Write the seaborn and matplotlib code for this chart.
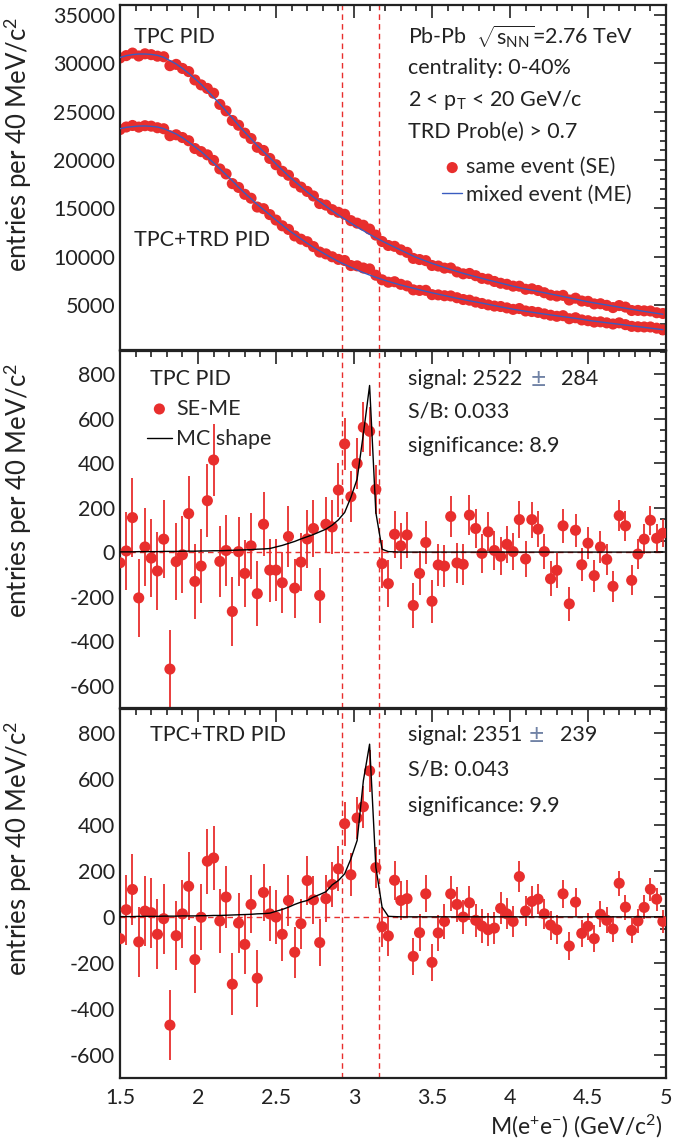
import numpy as np
import matplotlib
matplotlib.use("Agg")
import matplotlib.pyplot as plt
from matplotlib.ticker import MultipleLocator
import seaborn as sns

# bin centres, 40 MeV bins
mass = np.round(1.50 + 0.04 * np.arange(88), 2)

# mixed-event background (TPC PID / TPC+TRD PID)
me_tpc = [30600, 30790, 30900, 30960, 30960, 30920, 30820, 30620, 30280, 29930,
          29480, 28970, 28410, 27830, 27170, 26490, 25790, 25070, 24350, 23590,
          22870, 22190, 21500, 20860, 20240, 19590, 18970, 18350, 17800, 17240,
          16690, 16170, 15690, 15210, 14750, 14310, 13900, 13480, 13070, 12690,
          12310, 11950, 11620, 11300, 10990, 10680, 10370, 10060, 9800, 9550,
          9310, 9090, 8880, 8670, 8470, 8280, 8100, 7930, 7760, 7590,
          7430, 7270, 7110, 6950, 6800, 6660, 6530, 6400, 6270, 6140,
          6010, 5880, 5750, 5610, 5470, 5340, 5220, 5110, 5000, 4890,
          4780, 4670, 4560, 4450, 4340, 4240, 4140, 4040]
me_trd = [23240, 23380, 23450, 23510, 23520, 23480, 23410, 23240, 22980, 22690,
          22310, 21860, 21370, 20870, 20290, 19700, 19090, 18470, 17850, 17190,
          16570, 15990, 15400, 14860, 14340, 13790, 13270, 12750, 12300, 11840,
          11390, 10970, 10590, 10210, 9850, 9510, 9200, 8900, 8620, 8350,
          8100, 7870, 7650, 7440, 7250, 7070, 6900, 6740, 6580, 6420,
          6270, 6120, 5980, 5840, 5700, 5570, 5440, 5320, 5200, 5070,
          4940, 4810, 4690, 4570, 4460, 4360, 4260, 4160, 4070, 3980,
          3890, 3800, 3710, 3620, 3530, 3420, 3330, 3250, 3170, 3090,
          3010, 2930, 2850, 2770, 2690, 2610, 2530, 2450]

# SE - ME
diff_tpc = [-47, 6, 156, -205, 24, -26, -84, 59, -525, -42,
            -11, 174, -131, -62, 232, 415, -41, 8, -266, 3,
            -95, 29, -186, 126, -80, -80, -137, 71, -161, -44,
            60, 107, -194, 126, 114, 280, 487, 250, 399, 562,
            544, 283, -51, -141, 81, 29, 78, -239, -95, 44,
            -220, -57, -62, 161, -48, -54, 167, 107, -5, 92,
            8, -18, 36, 3, 147, -30, 147, 104, 3, -119,
            -81, 119, -232, 99, -56, 41, -105, 24, -32, -153,
            165, 119, -126, -8, 59, 144, 63, 86]
err_tpc = [175, 175, 176, 176, 176, 176, 176, 175, 174, 173,
           172, 170, 169, 167, 165, 163, 161, 158, 156, 154,
           151, 149, 147, 144, 142, 140, 138, 135, 133, 131,
           129, 127, 125, 123, 121, 120, 118, 116, 114, 113,
           111, 109, 108, 106, 105, 103, 102, 100, 99, 98,
           96, 95, 94, 93, 92, 91, 90, 89, 88, 87,
           86, 85, 84, 83, 82, 82, 81, 80, 79, 78,
           78, 77, 76, 75, 74, 73, 72, 71, 71, 70,
           69, 68, 68, 67, 66, 65, 64, 64]
diff_trd = [-94, 32, 120, -108, 26, 19, -75, -7, -470, -81,
            14, 134, -185, -1, 243, 257, -17, 87, -292, -26,
            -119, 55, -266, 107, 14, 0, -75, 72, -153, -29,
            159, 75, -111, 80, 142, 210, 406, 184, 431, 480,
            636, 215, -42, -82, 160, 72, 80, -171, -68, 101,
            -197, -69, -19, 101, 55, 0, 62, -14, -39, -55,
            -48, 38, 14, -19, 176, 26, 68, 78, 14, -35,
            -55, 101, -126, 65, -71, -40, -94, 12, -14, -52,
            147, 43, -58, -17, 42, 121, 78, -19]
err_trd = [152, 153, 153, 153, 153, 153, 153, 152, 152, 151,
           149, 148, 146, 144, 142, 140, 138, 136, 134, 131,
           129, 126, 124, 122, 120, 117, 115, 113, 111, 109,
           107, 105, 103, 101, 99, 98, 96, 94, 93, 91,
           90, 89, 87, 86, 85, 84, 83, 82, 81, 80,
           79, 78, 77, 76, 75, 75, 74, 73, 72, 71,
           70, 69, 68, 68, 67, 66, 65, 64, 64, 63,
           62, 62, 61, 60, 59, 58, 58, 57, 56, 56,
           55, 54, 53, 53, 52, 51, 50, 50]

# MC J/psi line shape
mc_tpc = [2, 2, 2, 3, 3, 3, 3, 4, 4, 4,
          5, 5, 5, 6, 6, 7, 7, 8, 9, 10,
          11, 12, 14, 15, 17, 24, 31, 40, 49, 60,
          70, 80, 92, 104, 122, 146, 179, 247, 329, 532,
          750, 179, 14, 3, 2, 1, 1, 1, 1, 1,
          1, 1, 1, 1, 1, 1, 1, 1, 1, 1,
          1, 1, 1, 1, 1, 1, 1, 1, 1, 1,
          1, 1, 1, 1, 1, 1, 1, 1, 1, 1,
          1, 1, 1, 1, 1, 1, 1, 1]
mc_trd = [2, 2, 2, 3, 3, 3, 3, 4, 4, 4,
          5, 5, 5, 6, 6, 7, 7, 8, 9, 10,
          11, 12, 14, 15, 17, 25, 33, 43, 55, 65,
          72, 87, 98, 110, 140, 159, 188, 253, 333, 593,
          752, 217, 43, 3, 2, 1, 1, 1, 1, 1,
          1, 1, 1, 1, 1, 1, 1, 1, 1, 1,
          1, 1, 1, 1, 1, 1, 1, 1, 1, 1,
          1, 1, 1, 1, 1, 1, 1, 1, 1, 1,
          1, 1, 1, 1, 1, 1, 1, 1]

window = [2.92, 3.16]

se_tpc = np.array(me_tpc) + np.array(diff_tpc)
se_trd = np.array(me_trd) + np.array(diff_trd)

sns.set_theme(style="white")
plt.rcParams['font.family'] = ['Lato', 'DejaVu Sans']
plt.rcParams['mathtext.fontset'] = 'custom'
plt.rcParams['mathtext.rm'] = 'Lato'
plt.rcParams['mathtext.it'] = 'Lato:italic'
plt.rcParams['mathtext.bf'] = 'Lato:bold'

RED = '#e82e2d'
BLUE = '#3a5cc0'
INK = '#222222'
W, H = 683, 1142
FS = 15.5

fig = plt.figure(figsize=(W / 100, H / 100), dpi=100)


def box(top, bottom):
    return [120 / W, 1 - bottom / H, 546 / W, (bottom - top) / H]


ax1 = fig.add_axes(box(5, 350))
ax2 = fig.add_axes(box(351, 708))
ax3 = fig.add_axes(box(709, 1078))

# top panel
sns.scatterplot(x=mass, y=se_tpc, ax=ax1, color=RED, s=64, edgecolor='none',
                label='same event (SE)', zorder=2)
sns.scatterplot(x=mass, y=se_trd, ax=ax1, color=RED, s=64, edgecolor='none', zorder=2)
sns.lineplot(x=mass, y=me_tpc, ax=ax1, color=BLUE, lw=1.0, label='mixed event (ME)', zorder=3)
sns.lineplot(x=mass, y=me_trd, ax=ax1, color=BLUE, lw=1.0, zorder=3)
ax1.set_ylim(350, 36030)
ax1.yaxis.set_major_locator(MultipleLocator(5000))
ax1.yaxis.set_minor_locator(MultipleLocator(1000))
ax1.legend(loc='center left', bbox_to_anchor=((442 - 120) / 546, (350 - 181) / 345),
           frameon=False, fontsize=FS, borderpad=0, handlelength=0.95,
           handletextpad=0.15, labelspacing=0.35, borderaxespad=0)

# residual panels
for ax, d, e, mc in [(ax2, diff_tpc, err_tpc, mc_tpc), (ax3, diff_trd, err_trd, mc_trd)]:
    ax.errorbar(mass, d, yerr=e, fmt='none', ecolor=RED, elinewidth=1.3, zorder=2)
    sns.scatterplot(x=mass, y=d, ax=ax, color=RED, s=64, edgecolor='none',
                    label='SE-ME', zorder=3)
    sns.lineplot(x=mass, y=mc, ax=ax, color='black', lw=1.0, label='MC shape', zorder=4)
    ax.axhline(0, color=RED, ls=(0, (4, 3)), lw=1.0, zorder=1)
    ax.set_ylim(-700, 905)
    ax.yaxis.set_major_locator(MultipleLocator(200))
    ax.yaxis.set_minor_locator(MultipleLocator(50))

ax2.legend(loc='center left', bbox_to_anchor=((147 - 120) / 546, (708 - 424) / 357),
           frameon=False, fontsize=FS, borderpad=0, handlelength=1.15,
           handletextpad=0.2, labelspacing=0.5, borderaxespad=0)
ax3.get_legend().remove()

for ax in (ax1, ax2, ax3):
    for xv in window:
        ax.axvline(xv, color=RED, ls=(0, (4, 3)), lw=1.0, zorder=1)
    ax.set_xlim(1.5, 5.0)
    ax.xaxis.set_major_locator(MultipleLocator(0.5))
    ax.xaxis.set_minor_locator(MultipleLocator(0.1))
    ax.tick_params(which='both', direction='in', top=True, right=True, width=1.2,
                   labelsize=15.5, colors=INK)
    ax.tick_params(which='major', length=9)
    ax.tick_params(which='minor', length=4.5)
    for sp in ax.spines.values():
        sp.set_linewidth(1.6)
        sp.set_color(INK)
    ax.set_xlabel('')
    ax.set_ylabel('')
    ax.yaxis.set_major_formatter(matplotlib.ticker.FormatStrFormatter('%d'))

ax1.tick_params(labelbottom=False)
ax2.tick_params(labelbottom=False)
ax3.xaxis.set_major_formatter(matplotlib.ticker.FuncFormatter(lambda v, p: f'{v:g}'))
ax3.tick_params(axis='x', pad=7)


def put(px, py, s, **kw):
    fig.text(px / W, 1 - py / H, s, fontsize=kw.pop('fontsize', FS), color=kw.pop('color', INK),
             va=kw.pop('va', 'center'), ha=kw.pop('ha', 'left'), **kw)


ylab = r'entries per 40 MeV/$\mathrm{c}^{2}$'
for top in (5, 351, 709):
    put(18, top + 12, ylab, rotation=90, va='top', ha='center', fontsize=18.5)

put(134, 37, 'TPC PID')
put(134, 240, 'TPC+TRD PID')
put(408, 37, r'Pb-Pb  $\sqrt{\mathrm{s}_{\mathrm{NN}}}$=2.76 TeV')
put(408, 68, 'centrality: 0-40%')
put(408, 100, r'2 < $\mathrm{p}_{\mathrm{T}}$ < 20 GeV/c')
put(408, 132, 'TRD Prob(e) > 0.7')

put(150, 379, 'TPC PID')
put(408, 379, 'signal: 2522')
put(531, 380, '\u00b1', fontsize=19, color='#7183a6')
put(561, 379, '284')
put(408, 412, 'S/B: 0.033')
put(408, 446, 'significance: 8.9')

put(150, 735, 'TPC+TRD PID')
put(408, 735, 'signal: 2351')
put(529, 736, '\u00b1', fontsize=19, color='#7183a6')
put(560, 735, '239')
put(408, 770, 'S/B: 0.043')
put(408, 806, 'significance: 9.9')

put(662, 1126, r'M(e$^{+}$e$^{-}$) (GeV/$\mathrm{c}^{2}$)', ha='right', fontsize=16.5)

fig.savefig('out.png', dpi=100)
